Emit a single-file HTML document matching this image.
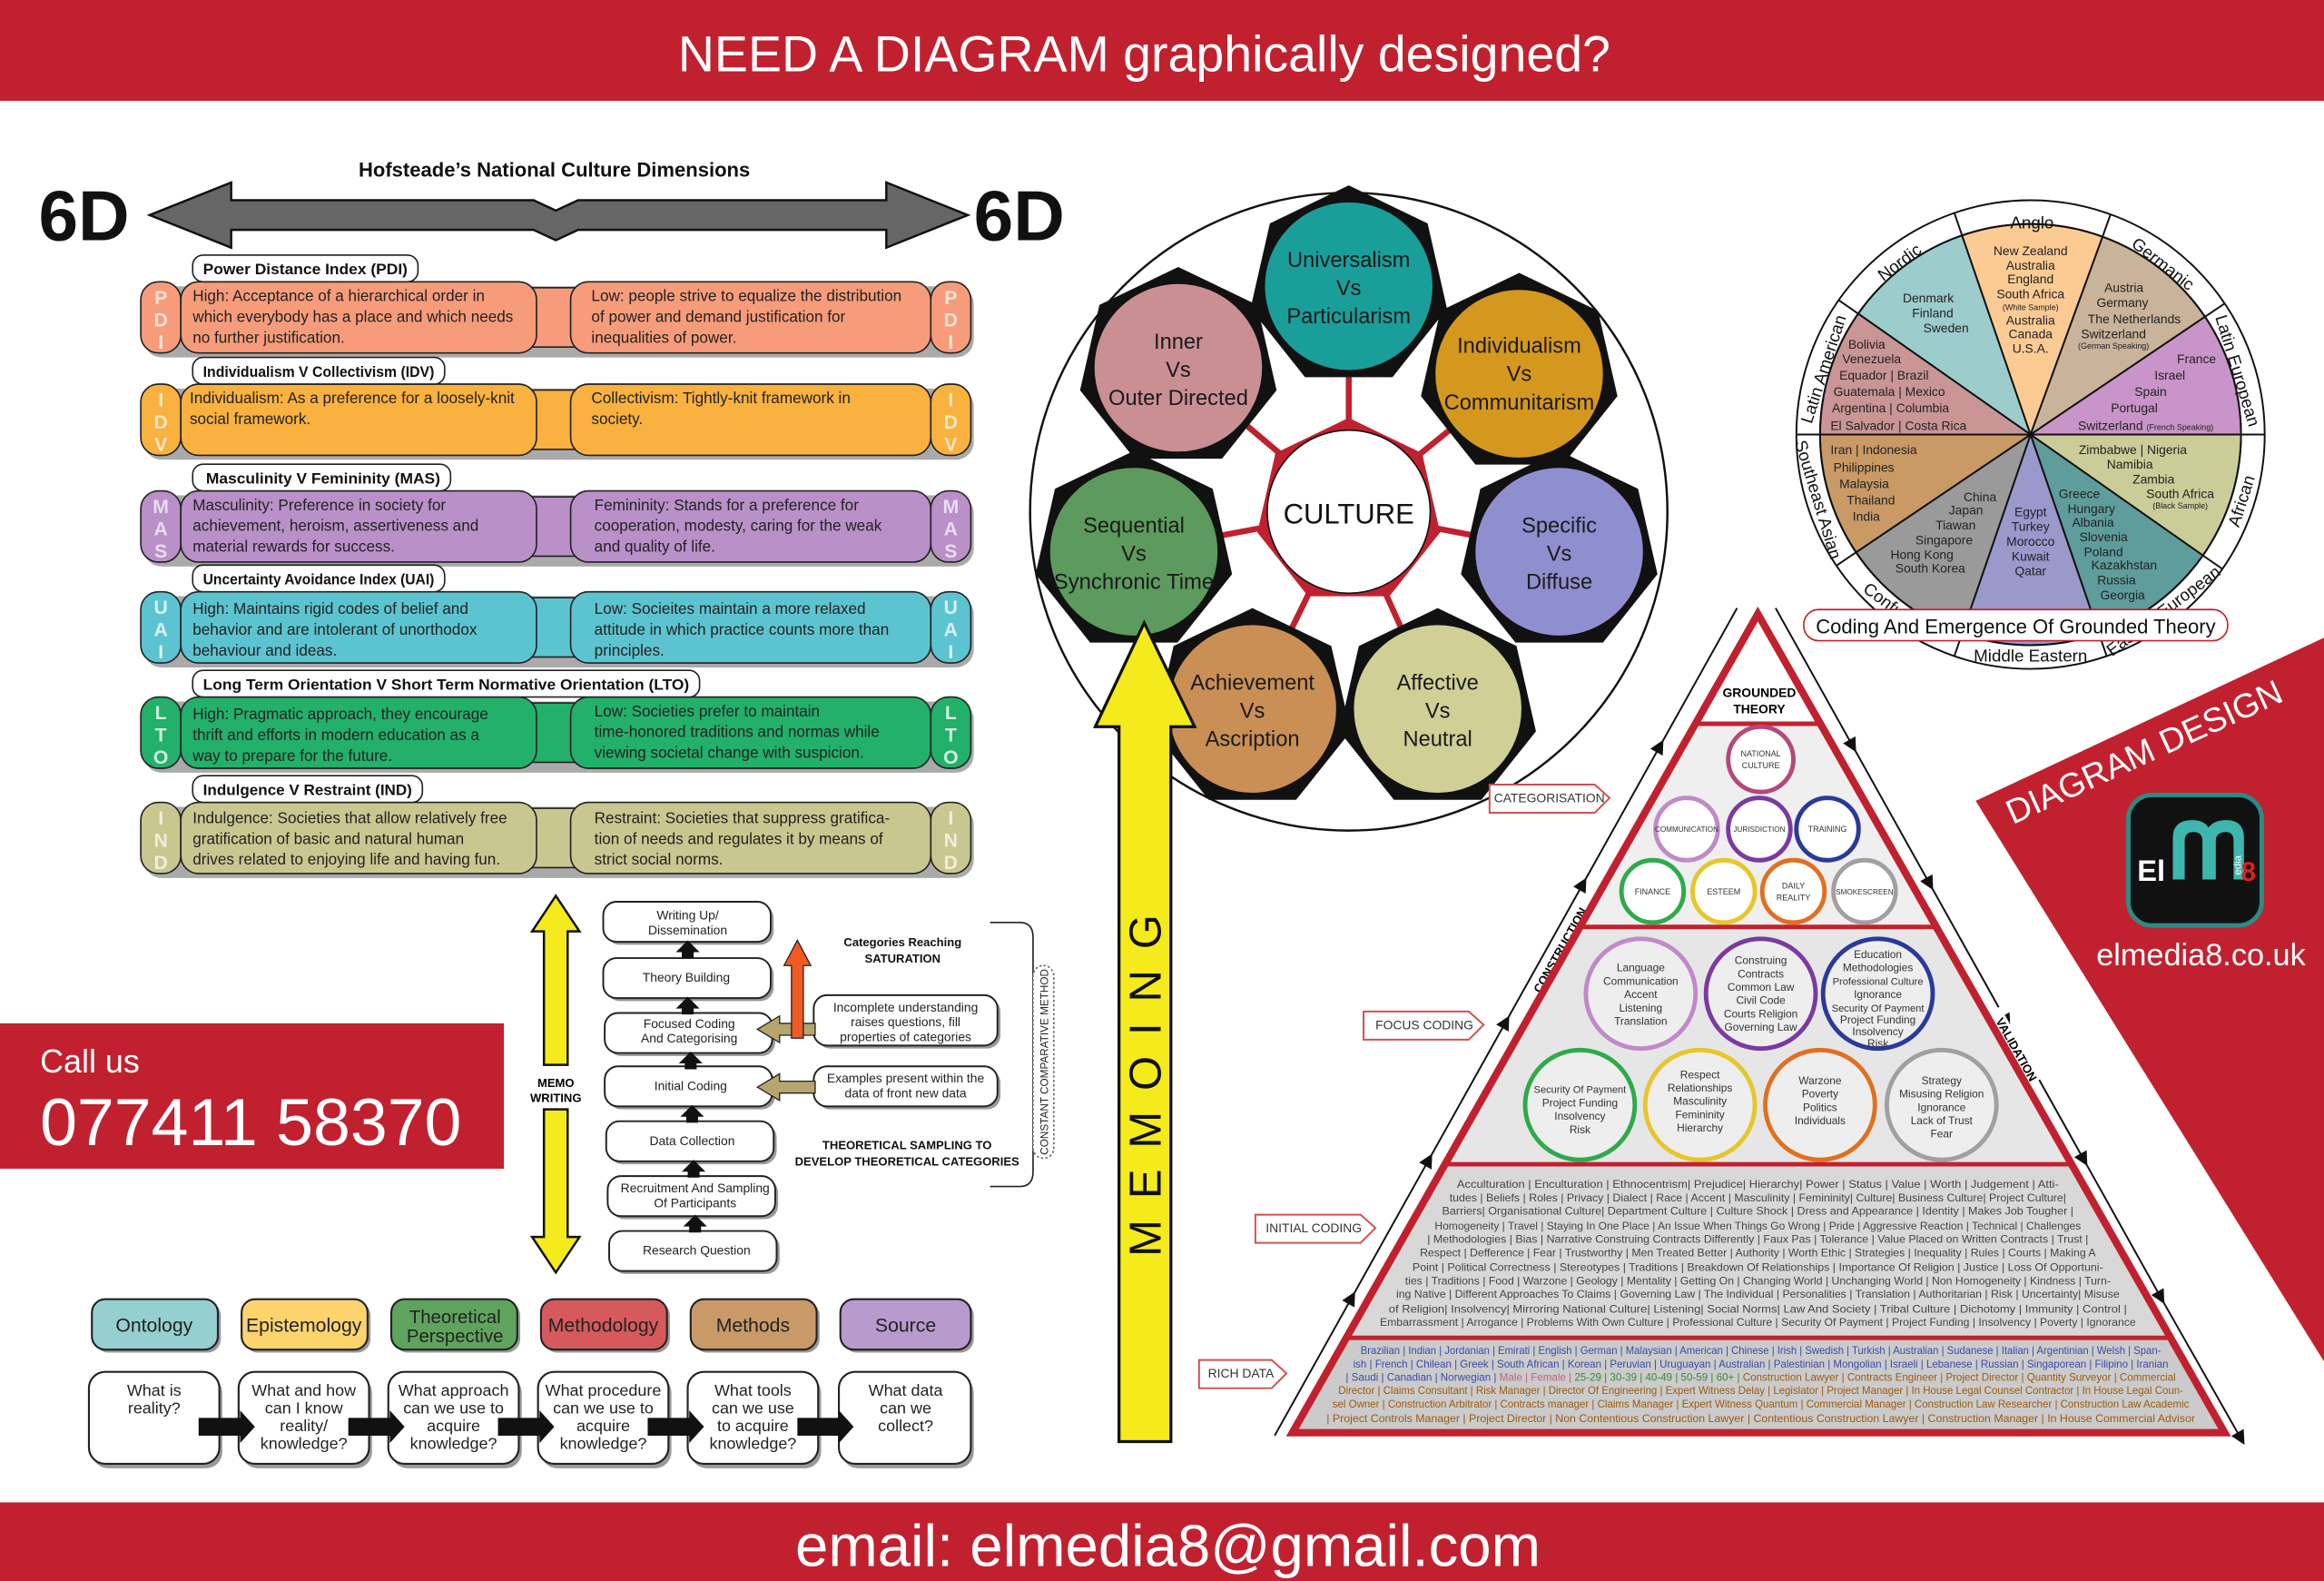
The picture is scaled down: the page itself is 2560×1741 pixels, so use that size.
<!DOCTYPE html>
<html><head><meta charset="utf-8"><style>
html,body{margin:0;padding:0;background:#fff;}
svg{display:block;font-family:"Liberation Sans",sans-serif;}
</style></head><body>
<svg width="2560" height="1741" viewBox="0 0 1568 1066" preserveAspectRatio="none" xmlns="http://www.w3.org/2000/svg">
<defs>
<polygon id="hep" points="0,-68 53.2,-42.4 66.3,15.1 29.5,61.3 -29.5,61.3 -66.3,15.1 -53.2,-42.4"/>
<marker id="au" markerWidth="8" markerHeight="8" refX="4" refY="4" orient="auto"><path d="M0,0 L8,4 L0,8 Z" fill="#111"/></marker>
<clipPath id="tri"><polygon points="1186,414 872,966 1501,966"/></clipPath>
</defs>
<rect width="1568" height="1066" fill="#fff"/>
<rect x="0" y="0" width="1568" height="68" fill="#c1212f"/>
<text x="772" y="48" font-size="34" fill="#fff" text-anchor="middle">NEED A DIAGRAM graphically designed?</text>
<rect x="0" y="1013" width="1568" height="53" fill="#c1212f"/>
<text x="788" y="1056" font-size="40" fill="#fff" text-anchor="middle">email: elmedia8@gmail.com</text>

<text x="374" y="119" font-size="13.5" font-weight="bold" text-anchor="middle" fill="#111">Hofsteade’s National Culture Dimensions</text>
<text x="26" y="162" font-size="48" font-weight="bold" fill="#111">6D</text>
<text x="657" y="162" font-size="48" font-weight="bold" fill="#111">6D</text>
<polygon points="101,145 156,123 156,135 360,135 375,142 390,135 598,135 598,123 653,145 598,167 598,155 390,155 375,162 360,155 156,155 156,167" fill="#666" stroke="#111" stroke-width="1.5"/>

<g font-size="10.5" fill="#222">
<g transform="translate(0,190)">
<rect x="97" y="3" width="560" height="48" rx="12" fill="#aaa"/>
<rect x="355" y="4" width="36" height="40" fill="#f79c7b" stroke="#222"/>
<rect x="95" y="0" width="27" height="48" rx="12" fill="#f79c7b" stroke="#222"/>
<rect x="122" y="0" width="240" height="48" rx="12" fill="#f79c7b" stroke="#222"/>
<rect x="385" y="0" width="243" height="48" rx="12" fill="#f79c7b" stroke="#222"/>
<rect x="628" y="0" width="27" height="48" rx="12" fill="#f79c7b" stroke="#222"/>
<g font-size="13" font-weight="bold" fill="#fde3d8" text-anchor="middle"><text x="108.5" y="15">P</text><text x="108.5" y="30">D</text><text x="108.5" y="45">I</text><text x="641.5" y="15">P</text><text x="641.5" y="30">D</text><text x="641.5" y="45">I</text></g>
<rect x="130" y="-18" width="152" height="18" rx="7" fill="#fff" stroke="#222"/>
<text x="137" y="-5" font-weight="bold" fill="#111" font-size="10" textLength="138" lengthAdjust="spacingAndGlyphs">Power Distance Index (PDI)</text>
<text x="130" y="13">High: Acceptance of a hierarchical order in</text><text x="130" y="27">which everybody has a place and which needs</text><text x="130" y="41">no further justification.</text>
<text x="399" y="13">Low: people strive to equalize the distribution</text><text x="399" y="27">of power and demand justification for</text><text x="399" y="41">inequalities of power.</text>
</g>
<g transform="translate(0,259)">
<rect x="97" y="3" width="560" height="48" rx="12" fill="#aaa"/>
<rect x="355" y="4" width="36" height="40" fill="#f9b13f" stroke="#222"/>
<rect x="95" y="0" width="27" height="48" rx="12" fill="#f9b13f" stroke="#222"/>
<rect x="122" y="0" width="240" height="48" rx="12" fill="#f9b13f" stroke="#222"/>
<rect x="385" y="0" width="243" height="48" rx="12" fill="#f9b13f" stroke="#222"/>
<rect x="628" y="0" width="27" height="48" rx="12" fill="#f9b13f" stroke="#222"/>
<g font-size="13" font-weight="bold" fill="#fde9c4" text-anchor="middle"><text x="108.5" y="15">I</text><text x="108.5" y="30">D</text><text x="108.5" y="45">V</text><text x="641.5" y="15">I</text><text x="641.5" y="30">D</text><text x="641.5" y="45">V</text></g>
<rect x="130" y="-18" width="170" height="18" rx="7" fill="#fff" stroke="#222"/>
<text x="137" y="-5" font-weight="bold" fill="#111" font-size="10" textLength="156" lengthAdjust="spacingAndGlyphs">Individualism V Collectivism (IDV)</text>
<text x="128" y="13">Individualism: As a preference for a loosely-knit</text><text x="128" y="27">social framework.</text>
<text x="399" y="13">Collectivism: Tightly-knit framework in</text><text x="399" y="27">society.</text>
</g>
<g transform="translate(0,331)">
<rect x="97" y="3" width="560" height="48" rx="12" fill="#aaa"/>
<rect x="355" y="4" width="36" height="40" fill="#b990c8" stroke="#222"/>
<rect x="95" y="0" width="27" height="48" rx="12" fill="#b990c8" stroke="#222"/>
<rect x="122" y="0" width="240" height="48" rx="12" fill="#b990c8" stroke="#222"/>
<rect x="385" y="0" width="243" height="48" rx="12" fill="#b990c8" stroke="#222"/>
<rect x="628" y="0" width="27" height="48" rx="12" fill="#b990c8" stroke="#222"/>
<g font-size="13" font-weight="bold" fill="#eadcf0" text-anchor="middle"><text x="108.5" y="15">M</text><text x="108.5" y="30">A</text><text x="108.5" y="45">S</text><text x="641.5" y="15">M</text><text x="641.5" y="30">A</text><text x="641.5" y="45">S</text></g>
<rect x="130" y="-18" width="174" height="18" rx="7" fill="#fff" stroke="#222"/>
<text x="139" y="-5" font-weight="bold" fill="#111" font-size="10" textLength="158" lengthAdjust="spacingAndGlyphs">Masculinity V Femininity (MAS)</text>
<text x="130" y="13">Masculinity: Preference in society for</text><text x="130" y="27">achievement, heroism, assertiveness and</text><text x="130" y="41">material rewards for success.</text>
<text x="401" y="13">Femininity: Stands for a preference for</text><text x="401" y="27">cooperation, modesty, caring for the weak</text><text x="401" y="41">and quality of life.</text>
</g>
<g transform="translate(0,399)">
<rect x="97" y="3" width="560" height="48" rx="12" fill="#aaa"/>
<rect x="355" y="4" width="36" height="40" fill="#5cc4d0" stroke="#222"/>
<rect x="95" y="0" width="27" height="48" rx="12" fill="#5cc4d0" stroke="#222"/>
<rect x="122" y="0" width="240" height="48" rx="12" fill="#5cc4d0" stroke="#222"/>
<rect x="385" y="0" width="243" height="48" rx="12" fill="#5cc4d0" stroke="#222"/>
<rect x="628" y="0" width="27" height="48" rx="12" fill="#5cc4d0" stroke="#222"/>
<g font-size="13" font-weight="bold" fill="#d6f1f4" text-anchor="middle"><text x="108.5" y="15">U</text><text x="108.5" y="30">A</text><text x="108.5" y="45">I</text><text x="641.5" y="15">U</text><text x="641.5" y="30">A</text><text x="641.5" y="45">I</text></g>
<rect x="130" y="-18" width="170" height="18" rx="7" fill="#fff" stroke="#222"/>
<text x="137" y="-5" font-weight="bold" fill="#111" font-size="10" textLength="156" lengthAdjust="spacingAndGlyphs">Uncertainty Avoidance Index (UAI)</text>
<text x="130" y="15">High: Maintains rigid codes of belief and</text><text x="130" y="29">behavior and are intolerant of unorthodox</text><text x="130" y="43">behaviour and ideas.</text>
<text x="401" y="15">Low: Socieites maintain a more relaxed</text><text x="401" y="29">attitude in which practice counts more than</text><text x="401" y="43">principles.</text>
</g>
<g transform="translate(0,470)">
<rect x="97" y="3" width="560" height="48" rx="12" fill="#aaa"/>
<rect x="355" y="4" width="36" height="40" fill="#22b06a" stroke="#222"/>
<rect x="95" y="0" width="27" height="48" rx="12" fill="#22b06a" stroke="#222"/>
<rect x="122" y="0" width="240" height="48" rx="12" fill="#22b06a" stroke="#222"/>
<rect x="385" y="0" width="243" height="48" rx="12" fill="#22b06a" stroke="#222"/>
<rect x="628" y="0" width="27" height="48" rx="12" fill="#22b06a" stroke="#222"/>
<g font-size="13" font-weight="bold" fill="#d0f0de" text-anchor="middle"><text x="108.5" y="15">L</text><text x="108.5" y="30">T</text><text x="108.5" y="45">O</text><text x="641.5" y="15">L</text><text x="641.5" y="30">T</text><text x="641.5" y="45">O</text></g>
<rect x="130" y="-18" width="342" height="18" rx="7" fill="#fff" stroke="#222"/>
<text x="137" y="-5" font-weight="bold" fill="#111" font-size="10" textLength="328" lengthAdjust="spacingAndGlyphs">Long Term Orientation V Short Term Normative Orientation (LTO)</text>
<text x="130" y="15">High: Pragmatic approach, they encourage</text><text x="130" y="29">thrift and efforts in modern education as a</text><text x="130" y="43">way to prepare for the future.</text>
<text x="401" y="13">Low: Societies prefer to maintain</text><text x="401" y="27">time-honored traditions and normas while</text><text x="401" y="41">viewing societal change with suspicion.</text>
</g>
<g transform="translate(0,541)">
<rect x="97" y="3" width="560" height="48" rx="12" fill="#aaa"/>
<rect x="355" y="4" width="36" height="40" fill="#c9c790" stroke="#222"/>
<rect x="95" y="0" width="27" height="48" rx="12" fill="#c9c790" stroke="#222"/>
<rect x="122" y="0" width="240" height="48" rx="12" fill="#c9c790" stroke="#222"/>
<rect x="385" y="0" width="243" height="48" rx="12" fill="#c9c790" stroke="#222"/>
<rect x="628" y="0" width="27" height="48" rx="12" fill="#c9c790" stroke="#222"/>
<g font-size="13" font-weight="bold" fill="#f0efda" text-anchor="middle"><text x="108.5" y="15">I</text><text x="108.5" y="30">N</text><text x="108.5" y="45">D</text><text x="641.5" y="15">I</text><text x="641.5" y="30">N</text><text x="641.5" y="45">D</text></g>
<rect x="130" y="-18" width="155" height="18" rx="7" fill="#fff" stroke="#222"/>
<text x="137" y="-5" font-weight="bold" fill="#111" font-size="10" textLength="141" lengthAdjust="spacingAndGlyphs">Indulgence V Restraint (IND)</text>
<text x="130" y="14">Indulgence: Societies that allow relatively free</text><text x="130" y="28">gratification of basic and natural human</text><text x="130" y="42">drives related to enjoying life and having fun.</text>
<text x="401" y="14">Restraint: Societies that suppress gratifica-</text><text x="401" y="28">tion of needs and regulates it by means of</text><text x="401" y="42">strict social norms.</text>
</g>
</g>

<rect x="0" y="690" width="340" height="98" fill="#c1212f"/>
<text x="27" y="723" font-size="22" fill="#fff">Call us</text>
<text x="27" y="772" font-size="45" fill="#fff">077411 58370</text>

<polygon points="375,604 391,628 383,628 383,718 367,718 367,628 359,628" fill="#f4ea1c" stroke="#111" stroke-width="1.5"/>
<polygon points="375,858 391,834 383,834 383,748 367,748 367,834 359,834" fill="#f4ea1c" stroke="#111" stroke-width="1.5"/>
<text x="375" y="733" font-size="8" font-weight="bold" text-anchor="middle">MEMO</text>
<text x="375" y="743" font-size="8" font-weight="bold" text-anchor="middle">WRITING</text>

<g font-size="8.5" fill="#222" text-anchor="middle">
<g fill="#fff" stroke="#222" stroke-width="1.2">
<rect x="409" y="610" width="113" height="27" rx="9" fill="#999" stroke="none"/><rect x="407" y="608" width="113" height="27" rx="9"/>
<rect x="409" y="648" width="113" height="27" rx="9" fill="#999" stroke="none"/><rect x="407" y="646" width="113" height="27" rx="9"/>
<rect x="410" y="685" width="113" height="27" rx="9" fill="#999" stroke="none"/><rect x="408" y="683" width="113" height="27" rx="9"/>
<rect x="410" y="721" width="113" height="27" rx="9" fill="#999" stroke="none"/><rect x="408" y="719" width="113" height="27" rx="9"/>
<rect x="411" y="758" width="113" height="27" rx="9" fill="#999" stroke="none"/><rect x="409" y="756" width="113" height="27" rx="9"/>
<rect x="412" y="795" width="113" height="27" rx="9" fill="#999" stroke="none"/><rect x="410" y="793" width="113" height="27" rx="9"/>
<rect x="413" y="832" width="113" height="27" rx="9" fill="#999" stroke="none"/><rect x="411" y="830" width="113" height="27" rx="9"/>
<rect x="551" y="673" width="124" height="34" rx="9" fill="#999" stroke="none"/><rect x="549" y="671" width="124" height="34" rx="9"/>
<rect x="551" y="721" width="124" height="27" rx="9" fill="#999" stroke="none"/><rect x="549" y="719" width="124" height="27" rx="9"/>
</g>
<text x="464" y="620">Writing Up/</text><text x="464" y="630">Dissemination</text>
<text x="463" y="662">Theory Building</text>
<text x="465" y="693">Focused Coding</text><text x="465" y="703">And Categorising</text>
<text x="466" y="735">Initial Coding</text>
<text x="467" y="772">Data Collection</text>
<text x="469" y="804">Recruitment And Sampling</text><text x="469" y="814">Of Participants</text>
<text x="470" y="846">Research Question</text>
<text x="611" y="682">Incomplete understanding</text><text x="611" y="692">raises questions, fill</text><text x="611" y="702">properties of categories</text>
<text x="611" y="730">Examples present within the</text><text x="611" y="740">data of front new data</text>
<g font-weight="bold" font-size="8" fill="#111"><text x="609" y="638">Categories Reaching</text><text x="609" y="649">SATURATION</text>
<text x="612" y="775">THEORETICAL SAMPLING TO</text><text x="612" y="786">DEVELOP THEORETICAL CATEGORIES</text></g>
</g>
<g fill="#111">
<polygon points="464,634 472,642 468,642 468,646 460,646 460,642 456,642"/>
<polygon points="464,672 472,680 468,680 468,684 460,684 460,680 456,680"/>
<polygon points="466,709 474,717 470,717 470,721 462,721 462,717 458,717"/>
<polygon points="467,745 475,753 471,753 471,757 463,757 463,753 459,753"/>
<polygon points="468,782 476,790 472,790 472,794 464,794 464,790 460,790"/>
<polygon points="469,819 477,827 473,827 473,831 465,831 465,827 461,827"/>
</g>
<polygon points="511,694 526,685 526,690 550,690 550,698 526,698 526,703" fill="#b6a66e" stroke="#222" stroke-width="0.8"/>
<polygon points="511,733 526,724 526,729 550,729 550,737 526,737 526,742" fill="#b6a66e" stroke="#222" stroke-width="0.8"/>
<polygon points="538,634 547,651 542,651 542,700 534,700 534,651 529,651" fill="#f15a24" stroke="#222" stroke-width="0.8"/>
<path d="M668,622 H688 Q697,622 697,632 V790 Q697,800 688,800 H668" fill="none" stroke="#222"/>
<rect x="697" y="651" width="14" height="130" rx="7" fill="#fff" stroke="#666" stroke-dasharray="1.5,1.5"/>
<text transform="translate(707,716) rotate(-90)" font-size="7.2" text-anchor="middle" fill="#222">CONSTANT COMPARATIVE METHOD</text>

<g stroke="#222" stroke-width="1.3">
<rect x="64" y="878" width="85" height="34" rx="9" fill="#999" stroke="none"/><rect x="62" y="876" width="85" height="34" rx="9" fill="#96cfcf"/>
<rect x="165" y="878" width="85" height="34" rx="9" fill="#999" stroke="none"/><rect x="163" y="876" width="85" height="34" rx="9" fill="#fbd46e"/>
<rect x="266" y="878" width="85" height="34" rx="9" fill="#999" stroke="none"/><rect x="264" y="876" width="85" height="34" rx="9" fill="#5fa35f"/>
<rect x="367" y="878" width="85" height="34" rx="9" fill="#999" stroke="none"/><rect x="365" y="876" width="85" height="34" rx="9" fill="#d65a5c"/>
<rect x="468" y="878" width="85" height="34" rx="9" fill="#999" stroke="none"/><rect x="466" y="876" width="85" height="34" rx="9" fill="#c99a68"/>
<rect x="569" y="878" width="88" height="34" rx="9" fill="#999" stroke="none"/><rect x="567" y="876" width="88" height="34" rx="9" fill="#b99acd"/>
<rect x="62" y="928" width="88" height="62" rx="11" fill="#999" stroke="none"/><rect x="60" y="925" width="88" height="62" rx="11" fill="#fff"/>
<rect x="163" y="928" width="88" height="62" rx="11" fill="#999" stroke="none"/><rect x="161" y="925" width="88" height="62" rx="11" fill="#fff"/>
<rect x="264" y="928" width="88" height="62" rx="11" fill="#999" stroke="none"/><rect x="262" y="925" width="88" height="62" rx="11" fill="#fff"/>
<rect x="365" y="928" width="88" height="62" rx="11" fill="#999" stroke="none"/><rect x="363" y="925" width="88" height="62" rx="11" fill="#fff"/>
<rect x="466" y="928" width="88" height="62" rx="11" fill="#999" stroke="none"/><rect x="464" y="925" width="88" height="62" rx="11" fill="#fff"/>
<rect x="568" y="928" width="89" height="62" rx="11" fill="#999" stroke="none"/><rect x="566" y="925" width="89" height="62" rx="11" fill="#fff"/>
</g>
<g font-size="13" text-anchor="middle" fill="#222">
<text x="104" y="898">Ontology</text><text x="205" y="898">Epistemology</text>
<text x="307" y="892" font-size="12.5">Theoretical</text><text x="307" y="905" font-size="12.5">Perspective</text>
<text x="407" y="898">Methodology</text><text x="508" y="898">Methods</text><text x="611" y="898">Source</text>
</g>
<g font-size="11" text-anchor="middle" fill="#222">
<text x="104" y="941">What is</text><text x="104" y="953">reality?</text>
<text x="205" y="941">What and how</text><text x="205" y="953">can I know</text><text x="205" y="965">reality/</text><text x="205" y="977">knowledge?</text>
<text x="306" y="941">What approach</text><text x="306" y="953">can we use to</text><text x="306" y="965">acquire</text><text x="306" y="977">knowledge?</text>
<text x="407" y="941">What procedure</text><text x="407" y="953">can we use to</text><text x="407" y="965">acquire</text><text x="407" y="977">knowledge?</text>
<text x="508" y="941">What tools</text><text x="508" y="953">can we use</text><text x="508" y="965">to acquire</text><text x="508" y="977">knowledge?</text>
<text x="611" y="941">What data</text><text x="611" y="953">can we</text><text x="611" y="965">collect?</text>
</g>
<g fill="#111">
<polygon points="134,956 162,956 162,951 172,962 162,973 162,968 134,968"/>
<polygon points="235,956 263,956 263,951 273,962 263,973 263,968 235,968"/>
<polygon points="336,956 364,956 364,951 374,962 364,973 364,968 336,968"/>
<polygon points="437,956 465,956 465,951 475,962 465,973 465,968 437,968"/>
<polygon points="538,956 566,956 566,951 576,962 566,973 566,968 538,968"/>
</g>

<circle cx="910" cy="345" r="215" fill="#fff" stroke="#111" stroke-width="1.5"/>
<g stroke="#c1212f" stroke-width="4">
<line x1="910" y1="345" x2="910" y2="193"/><line x1="910" y1="345" x2="1025" y2="252"/>
<line x1="910" y1="345" x2="1052" y2="372"/><line x1="910" y1="345" x2="970" y2="478"/>
<line x1="910" y1="345" x2="845" y2="478"/><line x1="910" y1="345" x2="765" y2="372"/>
<line x1="910" y1="345" x2="795" y2="248"/>
</g>
<use href="#hep" transform="translate(910,345) scale(0.93)" fill="#c1212f"/>
<circle cx="910" cy="345" r="55" fill="#fff" stroke="#111"/>
<text x="910" y="353" font-size="19" text-anchor="middle" fill="#111">CULTURE</text>
<g>
<use href="#hep" transform="translate(910,193)" fill="#111"/><circle cx="910" cy="193" r="57" fill="#1a9e9a" stroke="#111"/>
<use href="#hep" transform="translate(1025,252)" fill="#111"/><circle cx="1025" cy="252" r="57" fill="#d4981e" stroke="#111"/>
<use href="#hep" transform="translate(1052,372)" fill="#111"/><circle cx="1052" cy="372" r="57" fill="#8f8fcf" stroke="#111"/>
<use href="#hep" transform="translate(970,478)" fill="#111"/><circle cx="970" cy="478" r="57" fill="#cfcf96" stroke="#111"/>
<use href="#hep" transform="translate(845,478)" fill="#111"/><circle cx="845" cy="478" r="57" fill="#c98f55" stroke="#111"/>
<use href="#hep" transform="translate(765,372)" fill="#111"/><circle cx="765" cy="372" r="57" fill="#5d9a5d" stroke="#111"/>
<use href="#hep" transform="translate(795,248)" fill="#111"/><circle cx="795" cy="248" r="57" fill="#c98f92" stroke="#111"/>
</g>
<g font-size="14.5" text-anchor="middle" fill="#1a1a1a">
<text x="910" y="180">Universalism</text><text x="910" y="199">Vs</text><text x="910" y="218">Particularism</text>
<text x="1025" y="238">Individualism</text><text x="1025" y="257">Vs</text><text x="1025" y="276">Communitarism</text>
<text x="1052" y="359">Specific</text><text x="1052" y="378">Vs</text><text x="1052" y="397">Diffuse</text>
<text x="970" y="465">Affective</text><text x="970" y="484">Vs</text><text x="970" y="503">Neutral</text>
<text x="845" y="465">Achievement</text><text x="845" y="484">Vs</text><text x="845" y="503">Ascription</text>
<text x="765" y="359">Sequential</text><text x="765" y="378">Vs</text><text x="765" y="397" textLength="108" lengthAdjust="spacingAndGlyphs">Synchronic Time</text>
<text x="795" y="235">Inner</text><text x="795" y="254">Vs</text><text x="795" y="273">Outer Directed</text>
</g>
<polygon points="772,420 806,490 790,490 790,972 755,972 755,490 739,490" fill="#f4ea1c" stroke="#111" stroke-width="2"/>
<text transform="translate(783,725) rotate(-90)" font-size="30" text-anchor="middle" letter-spacing="14" fill="#111">MEMOING</text>

<!-- wheel: center (1370,293), inner r 142, outer r 158 -->
<g stroke="#111" stroke-width="1.2">
<circle cx="1370" cy="293" r="158" fill="#fff"/>
<path d="M1370,293 L1253.7,211.5 A142,142 0 0 1 1323.8,158.7 Z" fill="#9ccccc"/>
<path d="M1370,293 L1323.8,158.7 A142,142 0 0 1 1418.6,159.6 Z" fill="#fccb94"/>
<path d="M1370,293 L1418.6,159.6 A142,142 0 0 1 1487.7,213.6 Z" fill="#c9b39a"/>
<path d="M1370,293 L1487.7,213.6 A142,142 0 0 1 1512,293 Z" fill="#c994c9"/>
<path d="M1370,293 L1512,293 A142,142 0 0 1 1486.3,374.5 Z" fill="#cccc99"/>
<path d="M1370,293 L1486.3,374.5 A142,142 0 0 1 1416.2,427.3 Z" fill="#5f9c9c"/>
<path d="M1370,293 L1416.2,427.3 A142,142 0 0 1 1323.8,427.3 Z" fill="#9999cc"/>
<path d="M1370,293 L1323.8,427.3 A142,142 0 0 1 1252.3,372.4 Z" fill="#9a9a9a"/>
<path d="M1370,293 L1252.3,372.4 A142,142 0 0 1 1228,293 Z" fill="#c99a65"/>
<path d="M1370,293 L1228,293 A142,142 0 0 1 1253.7,211.5 Z" fill="#c99595"/>
<circle cx="1370" cy="293" r="142" fill="none"/>
<path d="M1323.8,158.7 L1318.6,143.6 M1418.6,159.6 L1424,144.5 M1487.7,213.6 L1501,204.6 M1512,293 L1528,293 M1486.3,374.5 L1499.4,383.6 M1416.2,427.3 L1421.4,442.4 M1323.8,427.3 L1318.6,442.4 M1252.3,372.4 L1239,381.4 M1228,293 L1212,293 M1253.7,211.5 L1240.6,202.4"/>
</g>
<g font-size="11.5" text-anchor="middle" fill="#111">
<text transform="translate(1371,154)">Anglo</text>
<text transform="translate(1284,180) rotate(-37)">Nordic</text>
<text transform="translate(1457,181) rotate(38)">Germanic</text>
<text transform="translate(1506,251) rotate(73)">Latin European</text>
<text transform="translate(1516,339) rotate(-72)">African</text>
<text transform="translate(1462,415) rotate(-37)">Eastern European</text>
<text transform="translate(1370,446)">Middle Eastern</text>
<text transform="translate(1277,414) rotate(37)">Confucian</text>
<text transform="translate(1223,338) rotate(73)">Southeast Asian</text>
<text transform="translate(1234,250) rotate(-72)">Latin American</text>
</g>
<g font-size="8.5" fill="#222">
<g text-anchor="middle">
<text x="1301" y="204">Denmark</text><text x="1304" y="214">Finland</text><text x="1313" y="224">Sweden</text>
<text x="1370" y="172">New Zealand</text><text x="1370" y="182">Australia</text><text x="1370" y="191">England</text><text x="1370" y="201">South Africa</text><text x="1370" y="209" font-size="5.5">(White Sample)</text><text x="1370" y="219">Australia</text><text x="1370" y="228">Canada</text><text x="1370" y="238">U.S.A.</text>
<text x="1433" y="197">Austria</text><text x="1432" y="207">Germany</text><text x="1440" y="218">The Netherlands</text><text x="1426" y="228">Switzerland</text><text x="1426" y="235" font-size="5.5">(German Speaking)</text>
<text x="1482" y="245">France</text><text x="1464" y="256">Israel</text><text x="1451" y="267">Spain</text><text x="1440" y="278">Portugal</text>
<text x="1370" y="348">Egypt</text><text x="1370" y="358">Turkey</text><text x="1370" y="368">Morocco</text><text x="1370" y="378">Kuwait</text><text x="1370" y="388">Qatar</text>
<text x="1439" y="306">Zimbabwe | Nigeria</text><text x="1437" y="316">Namibia</text><text x="1453" y="326">Zambia</text><text x="1471" y="336">South Africa</text><text x="1471" y="343" font-size="5.5">(Black Sample)</text>
</g>
<text x="1402" y="290">Switzerland <tspan font-size="5.5">(French Speaking)</tspan></text>
<text x="1247" y="235">Bolivia</text><text x="1243" y="245">Venezuela</text><text x="1241" y="256">Equador | Brazil</text><text x="1237" y="267">Guatemala | Mexico</text><text x="1236" y="278">Argentina | Columbia</text><text x="1235" y="290">El Salvador | Costa Rica</text>
<text x="1235" y="306">Iran | Indonesia</text><text x="1237" y="318">Philippines</text><text x="1241" y="329">Malaysia</text><text x="1246" y="340">Thailand</text><text x="1250" y="351">India</text>
<g text-anchor="end"><text x="1347" y="338">China</text><text x="1338" y="347">Japan</text><text x="1333" y="357">Tiawan</text><text x="1331" y="367">Singapore</text><text x="1318" y="377">Hong Kong</text><text x="1326" y="386">South Korea</text></g>
<text x="1389" y="336">Greece</text><text x="1395" y="346">Hungary</text><text x="1398" y="355">Albania</text><text x="1403" y="365">Slovenia</text><text x="1406" y="375">Poland</text><text x="1411" y="384">Kazakhstan</text><text x="1415" y="394">Russia</text><text x="1417" y="404">Georgia</text>
</g>
<rect x="1217" y="411" width="286" height="21" rx="10" fill="#fff" stroke="#c1212f"/>
<text x="1360" y="427" font-size="13.5" text-anchor="middle" fill="#111">Coding And Emergence Of Grounded Theory</text>

<polygon points="1333,540 1568,430 1568,918" fill="#c1212f"/>
<text transform="translate(1358,556) rotate(-24.5)" font-size="23" fill="#fff">DIAGRAM DESIGN</text>
<rect x="1436" y="536" width="90" height="88" rx="16" fill="#111" stroke="#2a8c85" stroke-width="3"/>
<path d="M1466,593 V565 Q1466,553 1479,553 Q1487,553 1490,558 Q1494,553 1502,553 Q1514,553 1514,565 V593 H1507 V567 Q1507,561 1502,561 Q1495,561 1495,567 V593 H1486 V567 Q1486,561 1480,561 Q1474,561 1474,567 V593 Z" fill="#3eb6ae"/>
<text x="1442" y="594" font-size="20" font-weight="bold" fill="#fff">El</text>
<text transform="translate(1512,590) rotate(-90)" font-size="7" fill="#fff">edia</text>
<text x="1512" y="594" font-size="18" font-weight="bold" fill="#e02020">8</text>
<text x="1485" y="651" font-size="21" text-anchor="middle" fill="#fff">elmedia8.co.uk</text>

<polyline points="860,968 912,875 964,782 1016,689 1068,596 1120,503 1172,410" fill="none" stroke="#111" stroke-width="1.2" marker-mid="url(#au)"/>
<polyline points="1198,410 1250,503 1302,596 1354,689 1406,782 1458,875 1512,970" fill="none" stroke="#111" stroke-width="1.2" marker-mid="url(#au)" marker-end="url(#au)"/>
<rect x="1020" y="633" width="70" height="12" fill="#fff" transform="rotate(-60.5 1055 639)"/>
<text transform="translate(1055,642) rotate(-60.5)" font-size="8" font-weight="bold" text-anchor="middle">CONSTRUCTION</text>
<rect x="1330" y="700" width="56" height="12" fill="#fff" transform="rotate(60.5 1358 706)"/>
<text transform="translate(1358,709) rotate(60.5)" font-size="8" font-weight="bold" text-anchor="middle">VALIDATION</text>
<polygon points="1186,414 872,966 1501,966" fill="#e4e4e4"/>
<g clip-path="url(#tri)">
<rect x="860" y="400" width="660" height="88" fill="#fff"/>
<rect x="860" y="488" width="660" height="137" fill="#efefef"/>
<rect x="860" y="625" width="660" height="160" fill="#e6e6e6"/>
<rect x="860" y="785" width="660" height="117" fill="#d8d8d8"/>
<rect x="860" y="902" width="660" height="70" fill="#cbcbcb"/>
<g stroke="#c1212f" stroke-width="3"><line x1="860" y1="488" x2="1520" y2="488"/><line x1="860" y1="625" x2="1520" y2="625"/><line x1="860" y1="785" x2="1520" y2="785"/><line x1="860" y1="902" x2="1520" y2="902"/></g>
</g>
<polygon points="1186,414 872,966 1501,966" fill="none" stroke="#c1212f" stroke-width="5"/>
<text x="1187" y="470" font-size="8.5" font-weight="bold" text-anchor="middle">GROUNDED</text>
<text x="1187" y="481" font-size="8.5" font-weight="bold" text-anchor="middle">THEORY</text>
<g fill="#fff" stroke-width="3">
<circle cx="1188" cy="512" r="22" stroke="#b5487a"/>
<circle cx="1138" cy="559" r="21" stroke="#c08ac8"/><circle cx="1187" cy="559" r="21" stroke="#7b3aa0"/><circle cx="1233" cy="559" r="21" stroke="#2a3a9a"/>
<circle cx="1115" cy="601" r="21" stroke="#2eaa4a"/><circle cx="1163" cy="601" r="21" stroke="#e8c52a"/><circle cx="1210" cy="601" r="21" stroke="#e07020"/><circle cx="1258" cy="601" r="21" stroke="#a0a0a0"/>
<circle cx="1107" cy="670" r="37" stroke="#c08ac8" fill="#eee"/><circle cx="1188" cy="670" r="37" stroke="#7b3aa0" fill="#eee"/><circle cx="1267" cy="670" r="37" stroke="#2a3a9a" fill="#eee"/>
<circle cx="1066" cy="745" r="37" stroke="#2eaa4a" fill="#eee"/><circle cx="1147" cy="745" r="37" stroke="#e8c52a" fill="#eee"/><circle cx="1228" cy="745" r="37" stroke="#e07020" fill="#eee"/><circle cx="1310" cy="745" r="37" stroke="#a0a0a0" fill="#eee"/>
</g>
<g font-size="5.5" text-anchor="middle" fill="#333">
<text x="1188" y="510">NATIONAL</text><text x="1188" y="518">CULTURE</text>
<text x="1138" y="561" font-size="5">COMMUNICATION</text><text x="1187" y="561" font-size="5">JURISDICTION</text><text x="1233" y="561">TRAINING</text>
<text x="1115" y="603">FINANCE</text><text x="1163" y="603">ESTEEM</text><text x="1210" y="599">DAILY</text><text x="1210" y="607">REALITY</text><text x="1258" y="603" font-size="5">SMOKESCREEN</text>
</g>
<g font-size="7.3" text-anchor="middle" fill="#333">
<text x="1107" y="655">Language</text><text x="1107" y="664">Communication</text><text x="1107" y="673">Accent</text><text x="1107" y="682">Listening</text><text x="1107" y="691">Translation</text>
<text x="1188" y="650">Construing</text><text x="1188" y="659">Contracts</text><text x="1188" y="668">Common Law</text><text x="1188" y="677">Civil Code</text><text x="1188" y="686">Courts Religion</text><text x="1188" y="695">Governing Law</text>
<text x="1267" y="646">Education</text><text x="1267" y="655">Methodologies</text><text x="1267" y="664" font-size="6.8">Professional Culture</text><text x="1267" y="673">Ignorance</text><text x="1267" y="682" font-size="6.8">Security Of Payment</text><text x="1267" y="690">Project Funding</text><text x="1267" y="698">Insolvency</text><text x="1267" y="706">Risk</text>
<text x="1066" y="737" font-size="6.8">Security Of Payment</text><text x="1066" y="746">Project Funding</text><text x="1066" y="755">Insolvency</text><text x="1066" y="764">Risk</text>
<text x="1147" y="727">Respect</text><text x="1147" y="736">Relationships</text><text x="1147" y="745">Masculinity</text><text x="1147" y="754">Femininity</text><text x="1147" y="763">Hierarchy</text>
<text x="1228" y="731">Warzone</text><text x="1228" y="740">Poverty</text><text x="1228" y="749">Politics</text><text x="1228" y="758">Individuals</text>
<text x="1310" y="731">Strategy</text><text x="1310" y="740">Misusing Religion</text><text x="1310" y="749">Ignorance</text><text x="1310" y="758">Lack of Trust</text><text x="1310" y="767">Fear</text>
</g>
<g font-size="7.3" text-anchor="middle" fill="#444">
<text x="1186" y="801" textLength="406" lengthAdjust="spacingAndGlyphs">Acculturation | Enculturation | Ethnocentrism| Prejudice| Hierarchy| Power | Status | Value | Worth | Judgement | Atti-</text>
<text x="1186" y="810" textLength="416" lengthAdjust="spacingAndGlyphs">tudes | Beliefs | Roles | Privacy | Dialect | Race | Accent | Masculinity | Femininity| Culture| Business Culture| Project Culture|</text>
<text x="1186" y="819" textLength="426" lengthAdjust="spacingAndGlyphs">Barriers| Organisational Culture| Department Culture | Culture Shock | Dress and Appearance | Identity | Makes Job Tougher |</text>
<text x="1186" y="829" textLength="436" lengthAdjust="spacingAndGlyphs">Homogeneity | Travel | Staying In One Place | An Issue When Things Go Wrong | Pride | Aggressive Reaction | Technical | Challenges</text>
<text x="1186" y="838" textLength="446" lengthAdjust="spacingAndGlyphs">| Methodologies | Bias | Narrative Construing Contracts Differently | Faux Pas | Tolerance | Value Placed on Written Contracts | Trust |</text>
<text x="1186" y="847" textLength="456" lengthAdjust="spacingAndGlyphs">Respect | Defference | Fear | Trustworthy | Men Treated Better | Authority | Worth Ethic | Strategies | Inequality | Rules | Courts | Making A</text>
<text x="1186" y="857" textLength="466" lengthAdjust="spacingAndGlyphs">Point | Political Correctness | Stereotypes | Traditions | Breakdown Of Relationships | Importance Of Religion | Justice | Loss Of Opportuni-</text>
<text x="1186" y="866" textLength="476" lengthAdjust="spacingAndGlyphs">ties | Traditions | Food | Warzone | Geology | Mentality | Getting On | Changing World | Unchanging World | Non Homogeneity | Kindness | Turn-</text>
<text x="1186" y="875" textLength="488" lengthAdjust="spacingAndGlyphs">ing Native | Different Approaches To Claims | Governing Law | The Individual | Personalities | Translation | Authoritarian | Risk | Uncertainty| Misuse</text>
<text x="1186" y="885" textLength="498" lengthAdjust="spacingAndGlyphs">of Religion| Insolvency| Mirroring National Culture| Listening| Social Norms| Law And Society | Tribal Culture | Dichotomy | Immunity | Control |</text>
<text x="1186" y="894" textLength="510" lengthAdjust="spacingAndGlyphs">Embarrassment | Arrogance | Problems With Own Culture | Professional Culture | Security Of Payment | Project Funding | Insolvency | Poverty | Ignorance</text>
</g>
<g font-size="7.3" text-anchor="middle">
<text x="1188" y="913" textLength="540" lengthAdjust="spacingAndGlyphs" fill="#3a4aa8">Brazilian | Indian | Jordanian | Emirati | English | German | Malaysian | American | Chinese | Irish | Swedish | Turkish | Australian | Sudanese | Italian | Argentinian | Welsh | Span-</text>
<text x="1188" y="922" textLength="550" lengthAdjust="spacingAndGlyphs" fill="#3a4aa8">ish | French | Chilean | Greek | South African | Korean | Peruvian | Uruguayan | Australian | Palestinian | Mongolian | Israeli | Lebanese | Russian | Singaporean | Filipino | Iranian</text>
<text x="1188" y="931" textLength="560" lengthAdjust="spacingAndGlyphs" fill="#9a5a10"><tspan fill="#3a4aa8">| Saudi | Canadian | Norwegian |</tspan> <tspan fill="#c06080">Male | Female |</tspan> <tspan fill="#3a8a3a">25-29 | 30-39 | 40-49 | 50-59 | 60+ |</tspan> Construction Lawyer | Contracts Engineer | Project Director | Quantity Surveyor | Commercial</text>
<text x="1188" y="940" textLength="570" lengthAdjust="spacingAndGlyphs" fill="#9a5a10">Director | Claims Consultant | Risk Manager | Director Of Engineering | Expert Witness Delay | Legislator | Project Manager | In House Legal Counsel Contractor | In House Legal Coun-</text>
<text x="1188" y="949" textLength="578" lengthAdjust="spacingAndGlyphs" fill="#9a5a10">sel Owner | Construction Arbitrator | Contracts manager | Claims Manager | Expert Witness Quantum | Commercial Manager | Construction Law Researcher | Construction Law Academic</text>
<text x="1188" y="959" textLength="586" lengthAdjust="spacingAndGlyphs" fill="#9a5a10">| Project Controls Manager | Project Director | Non Contentious Construction Lawyer | Contentious Construction Lawyer | Construction Manager | In House Commercial Advisor</text>
</g>
<g fill="#fff" stroke="#d05050" stroke-width="1.2">
<polygon points="1005,529 1076,529 1086,538 1076,548 1005,548"/>
<polygon points="920,682 991,682 1001,691 991,701 920,701"/>
<polygon points="847,819 918,819 928,828 918,838 847,838"/>
<polygon points="809,917 858,917 868,926 858,936 809,936"/>
</g>
<g font-size="8.5" fill="#333">
<text x="1008" y="541">CATEGORISATION</text>
<text x="928" y="694">FOCUS CODING</text>
<text x="854" y="831">INITIAL CODING</text>
<text x="815" y="929">RICH DATA</text>
</g>
</svg>
</body></html>
